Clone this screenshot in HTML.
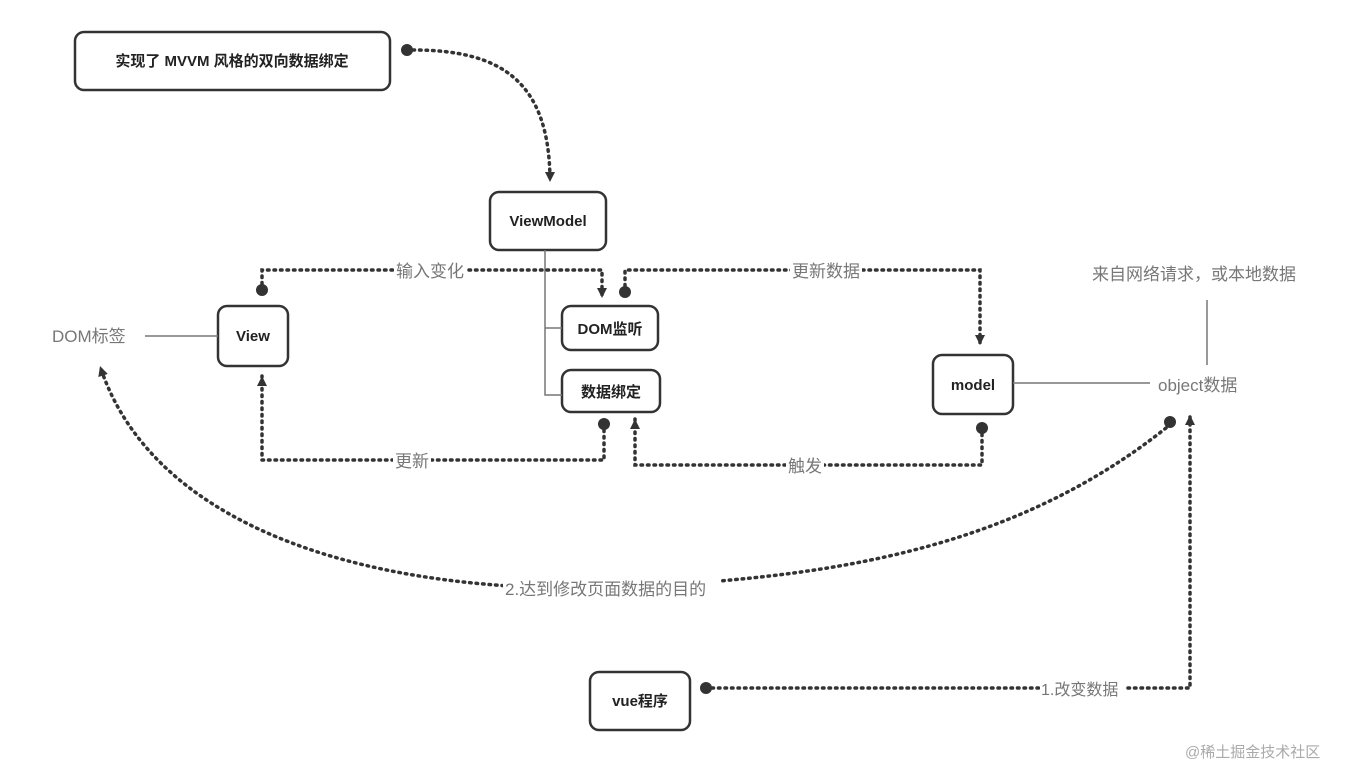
<!DOCTYPE html>
<html><head><meta charset="utf-8"><style>
body{margin:0;background:#fff;width:1354px;height:770px;overflow:hidden}
svg{display:block;font-family:"Liberation Sans","Noto Sans CJK SC",sans-serif}
.b{fill:#fff;stroke:#333;stroke-width:2.5}
.bt{font-weight:bold;font-size:15px;fill:#222;text-anchor:middle}
.d{fill:none;stroke:#333;stroke-width:3.5;stroke-dasharray:1.5 5;stroke-linecap:round}
.l{fill:none;stroke:#777;stroke-width:1.5}
.g{font-size:17px;fill:#777}
</style></head><body>
<svg width="1354" height="770" viewBox="0 0 1354 770">
<defs><marker id="a" markerWidth="12" markerHeight="12" refX="10" refY="5" orient="auto" markerUnits="userSpaceOnUse"><path d="M0,0 L10,5 L0,10z" fill="#333"/></marker></defs>
<rect class="b" x="75" y="32" width="315" height="58" rx="9"/>
<text class="bt" x="232" y="66">实现了 MVVM 风格的双向数据绑定</text>
<rect class="b" x="490" y="192" width="116" height="58" rx="9"/>
<text class="bt" x="548" y="226">ViewModel</text>
<rect class="b" x="218" y="306" width="70" height="60" rx="9"/>
<text class="bt" x="253" y="341">View</text>
<rect class="b" x="562" y="306" width="96" height="44" rx="9"/>
<text class="bt" x="610" y="334">DOM监听</text>
<rect class="b" x="562" y="370" width="98" height="42" rx="9"/>
<text class="bt" x="611" y="397">数据绑定</text>
<rect class="b" x="933" y="355" width="80" height="59" rx="9"/>
<text class="bt" x="973" y="390">model</text>
<rect class="b" x="590" y="672" width="100" height="58" rx="9"/>
<text class="bt" x="640" y="706">vue程序</text>
<path class="l" d="M545 250 V395 H562 M545 328 H562"/>
<path class="l" d="M145 336 H218"/>
<path class="l" d="M1013 383 H1150"/>
<path class="l" d="M1207 300 V365"/>
<text class="g" x="52" y="342">DOM标签</text>
<text class="g" x="1158" y="391">object数据</text>
<text class="g" x="1092" y="280">来自网络请求，或本地数据</text>
<circle cx="407" cy="50" r="6" fill="#333"/>
<path class="d" d="M413 50 C500 50 550 80 550 182" marker-end="url(#a)"/>
<circle cx="262" cy="290" r="6" fill="#333"/>
<path class="d" d="M262 284 V270 H602 V298" marker-end="url(#a)"/>
<circle cx="625" cy="292" r="6" fill="#333"/>
<path class="d" d="M625 286 V270 H980 V345" marker-end="url(#a)"/>
<circle cx="604" cy="424" r="6" fill="#333"/>
<path class="d" d="M604 430 V460 H262 V376" marker-end="url(#a)"/>
<circle cx="982" cy="428" r="6" fill="#333"/>
<path class="d" d="M982 434 V465 H635 V419" marker-end="url(#a)"/>
<circle cx="1170" cy="422" r="6" fill="#333"/>
<path class="d" d="M1166 428 C1000 560 800 580 600 588 C350 592 150 520 100 366" marker-end="url(#a)"/>
<circle cx="706" cy="688" r="6" fill="#333"/>
<path class="d" d="M712 688 H1190 V415" marker-end="url(#a)"/>
<rect x="394" y="260" width="72" height="20" fill="#fff"/><text class="g" x="396" y="277">输入变化</text>
<rect x="790" y="260" width="72" height="20" fill="#fff"/><text class="g" x="792" y="277">更新数据</text>
<rect x="393" y="450" width="38" height="20" fill="#fff"/><text class="g" x="395" y="467">更新</text>
<rect x="786" y="455" width="38" height="20" fill="#fff"/><text class="g" x="788" y="472">触发</text>
<rect x="503" y="578" width="217" height="22" fill="#fff"/><text class="g" x="505" y="595">2.达到修改页面数据的目的</text>
<rect x="1040" y="678" width="86" height="20" fill="#fff"/><text class="g" x="1041" y="695" style="font-size:16px">1.改变数据</text>
<text x="1185" y="757" style="font-size:15px;fill:#aaa">@稀土掘金技术社区</text>
</svg>
</body></html>
